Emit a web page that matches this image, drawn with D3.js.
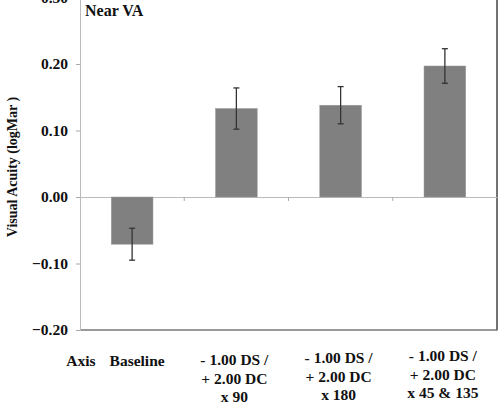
<!DOCTYPE html>
<html>
<head>
<meta charset="utf-8">
<script src="https://cdn.jsdelivr.net/npm/d3@7"></script>
<style>
  body { margin: 0; background: #fff; }
  svg text { font-family: "Liberation Serif", "DejaVu Serif", serif; font-weight: bold; }
</style>
</head>
<body>
<div id="chart"></div>
<script>
// data
const categories = ["Baseline", "-1.00/+2.00x90", "-1.00/+2.00x180", "-1.00/+2.00x45&135"];
const labelLines = [
    ["Baseline"],
    ["- 1.00 DS /", "+ 2.00 DC", "x 90"],
    ["- 1.00 DS /", "+ 2.00 DC", "x 180"],
    ["- 1.00 DS /", "+ 2.00 DC", "x 45 & 135"]
];
const values = [-0.071, 0.133, 0.138, 0.197];
const errors = [0.024, 0.031, 0.028, 0.026];
const yTicks = [-0.2, -0.1, 0.0, 0.1, 0.2, 0.3];

const width = 503, height = 411;
const plotLeft = 80, plotRight = 497, plotTop = -2.5, plotBottom = 330;
const serif = "'Liberation Serif', 'DejaVu Serif', serif";

const svg = d3.select("#chart").append("svg")
    .attr("width", width)
    .attr("height", height)
    .attr("font-family", serif)
    .attr("font-weight", "bold");

const x = d3.scaleBand()
    .domain(categories)
    .range([plotLeft, plotRight])
    .padding(0);

const y = d3.scaleLinear()
    .domain([-0.2, 0.3])
    .range([plotBottom, plotTop]);

const bw = x.bandwidth();

// plot frame: right and bottom borders
svg.append("line")
    .attr("x1", plotRight).attr("x2", plotRight)
    .attr("y1", plotTop).attr("y2", plotBottom + 0.5)
    .attr("stroke", "#444").attr("stroke-width", 1.5);
svg.append("line")
    .attr("x1", plotLeft).attr("x2", plotRight)
    .attr("y1", plotBottom).attr("y2", plotBottom)
    .attr("stroke", "#777").attr("stroke-width", 1.5);

// y axis
const yAxis = svg.append("g")
    .attr("transform", "translate(" + plotLeft + ",0)")
    .call(d3.axisLeft(y).tickValues(yTicks).tickFormat(d3.format(".2f")).tickSize(4).tickPadding(8))
    .attr("font-family", serif)
    .attr("font-size", 15.5);
yAxis.select(".domain").attr("stroke", "#bbb");
yAxis.selectAll(".tick line").attr("stroke", "#aaa");
yAxis.selectAll(".tick text").attr("fill", "#111");

// x axis at zero, ticks at category boundaries
const xAxis = svg.append("g")
    .attr("transform", "translate(0," + y(0) + ")")
    .call(d3.axisBottom(x).tickSize(0).tickFormat(""));
xAxis.select(".domain").attr("stroke", "#bbb");
xAxis.selectAll(".tick").remove();
xAxis.selectAll(".sep")
    .data(categories.slice(1))
    .enter().append("line")
    .attr("class", "sep")
    .attr("x1", function (d) { return x(d); })
    .attr("x2", function (d) { return x(d); })
    .attr("y1", 0).attr("y2", 4)
    .attr("stroke", "#aaa");

// bars
svg.append("g").selectAll("rect")
    .data(values)
    .enter().append("rect")
    .attr("x", function (d, i) { return x(categories[i]) + bw * 0.3; })
    .attr("width", bw * 0.4)
    .attr("y", function (d) { return y(Math.max(0, d)); })
    .attr("height", function (d) { return Math.abs(y(d) - y(0)); })
    .attr("fill", "#808080")
    .attr("stroke", "#999")
    .attr("stroke-width", 0.5);

// error bars
const err = svg.append("g").selectAll("g")
    .data(values)
    .enter().append("g")
    .attr("stroke", "#333")
    .attr("stroke-width", 1.3);
err.append("line")
    .attr("x1", function (d, i) { return x(categories[i]) + bw / 2; })
    .attr("x2", function (d, i) { return x(categories[i]) + bw / 2; })
    .attr("y1", function (d, i) { return y(d + errors[i]); })
    .attr("y2", function (d, i) { return y(d - errors[i]); });
[1, -1].forEach(function (s) {
    err.append("line")
        .attr("x1", function (d, i) { return x(categories[i]) + bw / 2 - 3; })
        .attr("x2", function (d, i) { return x(categories[i]) + bw / 2 + 3; })
        .attr("y1", function (d, i) { return y(d + s * errors[i]); })
        .attr("y2", function (d, i) { return y(d + s * errors[i]); });
});

// category labels (last columns sit a little higher in the original)
const labels = svg.append("g").selectAll("text")
    .data(labelLines)
    .enter().append("text")
    .attr("text-anchor", "middle")
    .attr("font-size", 15.5)
    .attr("fill", "#111")
    .attr("x", function (d, i) { return x(categories[i]) + bw / 2 + (i === 0 ? 5 : -2); })
    .attr("y", function (d, i) { return [366, 365, 363, 361][i]; });
labels.selectAll("tspan")
    .data(function (d) { return d; })
    .enter().append("tspan")
    .attr("x", function () { return d3.select(this.parentNode).attr("x"); })
    .attr("dy", function (d, j) { return j === 0 ? 0 : 18.5; })
    .text(function (d) { return d; });

svg.append("text")
    .attr("x", 81).attr("y", 366)
    .attr("text-anchor", "middle")
    .attr("font-size", 15.5)
    .attr("fill", "#111")
    .text("Axis");

// panel title
svg.append("text")
    .attr("x", 85).attr("y", 16)
    .attr("font-size", 16)
    .attr("fill", "#111")
    .text("Near VA");

// y axis title
svg.append("text")
    .attr("transform", "translate(17,167) rotate(-90)")
    .attr("text-anchor", "middle")
    .attr("font-size", 14)
    .attr("fill", "#111")
    .text("Visual Acuity (logMar )");
</script>
</body>
</html>
